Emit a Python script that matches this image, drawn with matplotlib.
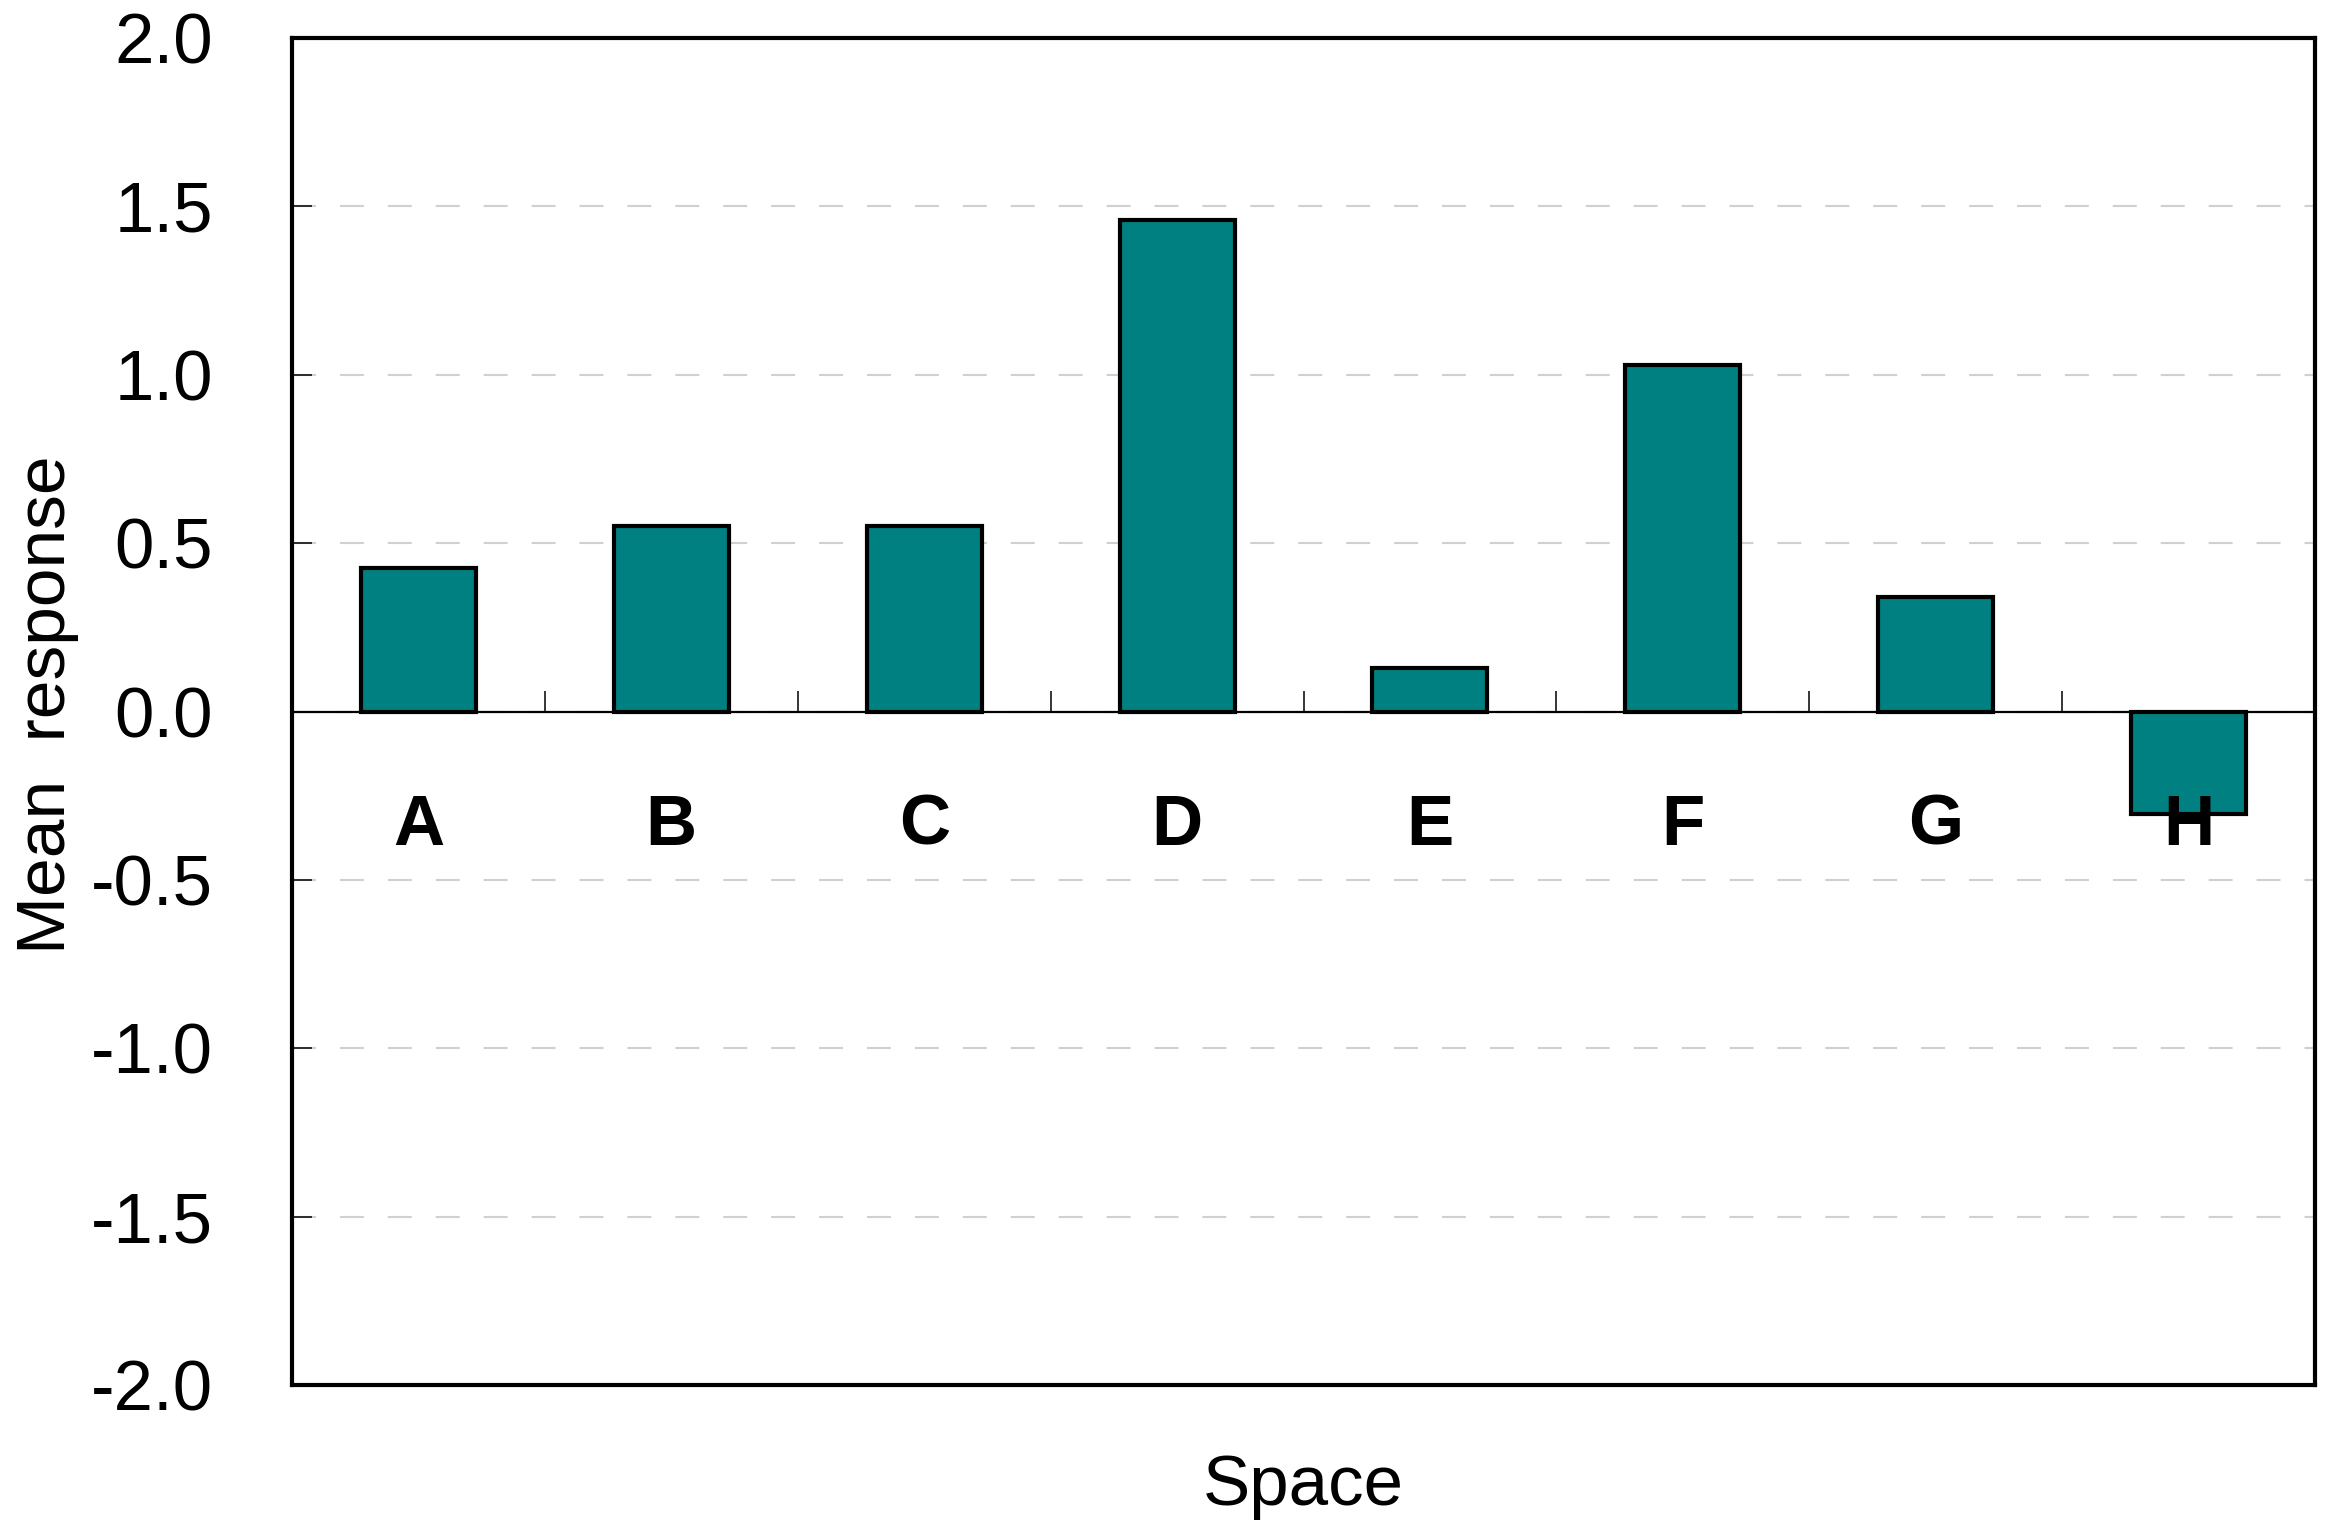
import matplotlib
matplotlib.use("Agg")
import matplotlib.pyplot as plt
import numpy as np

categories = ["A", "B", "C", "D", "E", "F", "G", "H"]
values = [0.425, 0.55, 0.55, 1.46, 0.13, 1.03, 0.34, -0.305]
yticks = [-2.0, -1.5, -1.0, -0.5, 0.0, 0.5, 1.0, 1.5, 2.0]
ytick_labels = ["-2.0", "-1.5", "-1.0", "-0.5", "0.0", "0.5", "1.0", "1.5", "2.0"]

plt.rcParams['font.family'] = ['Liberation Sans', 'DejaVu Sans']

W, H = 2335, 1532
fig = plt.figure(figsize=(W / 100, H / 100), dpi=100)
left, right, top, bottom = 292, 2315, 38, 1385
ax = fig.add_axes([left / W, 1 - bottom / H, (right - left) / W, (bottom - top) / H])

x = np.arange(len(categories))
ax.bar(x, values, width=0.455, color="#008080", edgecolor="black", linewidth=3.0, zorder=3)

ax.set_xlim(-0.5, len(categories) - 0.5)
ax.set_ylim(-2.0, 2.0)

# y axis
ax.set_yticks(yticks)
ax.set_yticklabels(ytick_labels)
ax.tick_params(axis="y", direction="in", length=14.5, width=1.1, pad=57, labelsize=51, colors="black")

# gridlines
ax.yaxis.grid(True, color="#d0d0d0", linewidth=1.5, linestyle=(0, (11.5, 11.5)), zorder=0)
ax.set_axisbelow(True)

# zero line as bottom spine with tick marks at category boundaries
ax.spines["bottom"].set_position(("data", 0))
ax.spines["bottom"].set_linewidth(1.6)
ax.spines["bottom"].set_zorder(4)
ax.set_xticks(x[:-1] + 0.5)
ax.set_xticklabels([])
ax.tick_params(axis="x", direction="in", length=15, width=1.1, colors="black")

for s in ["left", "right", "top"]:
    ax.spines[s].set_linewidth(3.0)
ax.plot([0, 1], [0, 0], transform=ax.transAxes, color="black", linewidth=3.0,
        clip_on=False, zorder=6, solid_capstyle="projecting")

# category labels
for xi, c in zip(x, categories):
    ax.text(xi, -0.395, c, ha="center", va="baseline", fontsize=51, fontweight="bold", zorder=7)

# axis labels
fig.text(((left + right) / 2) / W, 1 - 1505 / H, "Space", ha="center", va="baseline", fontsize=51)
fig.text(65 / W, 1 - 705 / H, "Mean  response", rotation=90, rotation_mode="anchor",
         ha="center", va="baseline", fontsize=50)

fig.savefig("out.png", dpi=100)
